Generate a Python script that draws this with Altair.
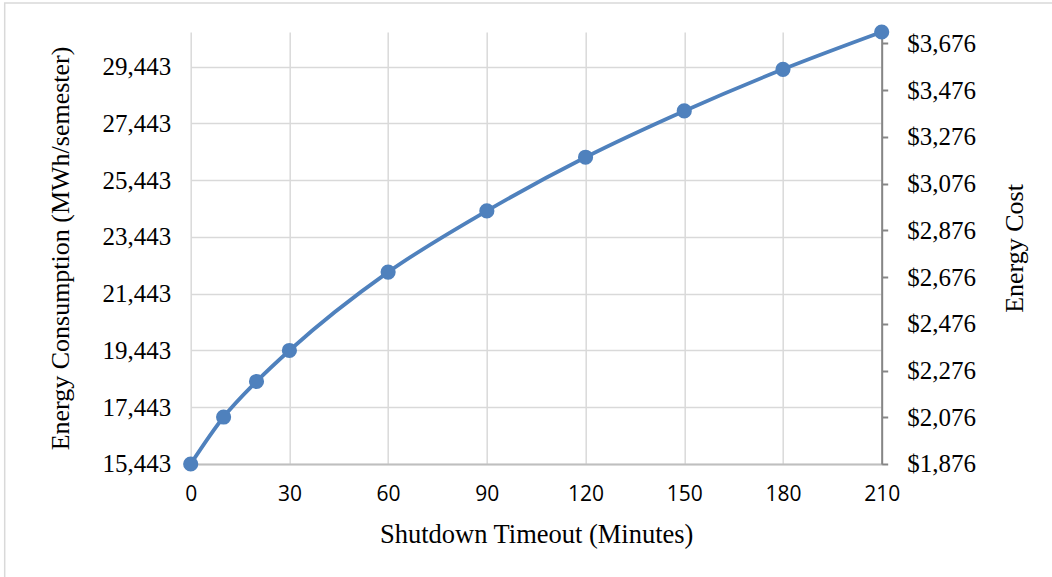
import altair as alt
import pandas as pd

# Shutdown timeout (minutes) vs. energy consumption per semester
minutes = [0, 10, 20, 30, 60, 90, 120, 150, 180, 210]
energy = [15443, 17098, 18351, 19443, 22204, 24362, 26253, 27883, 29351, 30665]

# Price used for the secondary (cost) axis, $ per unit of energy
price = 0.12148

x_ticks = [0, 30, 60, 90, 120, 150, 180, 210]
energy_ticks = [15443, 17443, 19443, 21443, 23443, 25443, 27443, 29443]
cost_ticks = [1876, 2076, 2276, 2476, 2676, 2876, 3076, 3276, 3476, 3676]

df = pd.DataFrame({"minutes": minutes, "energy": energy})
df["cost"] = df["energy"] * price

e_min, e_max = min(energy), max(energy)
# tiny margin so the lowest tick is not lost to rounding
c_min, c_max = e_min * price - 0.05, e_max * price

BLUE = "#4f81bd"
SERIF = "Liberation Serif"
SANS = "Liberation Sans Narrow, Open Sans"

x_scale = alt.Scale(domain=[0, 210], nice=False, zero=False)

x_enc = alt.X(
    "minutes:Q",
    scale=x_scale,
    axis=alt.Axis(
        values=x_ticks,
        title="Shutdown Timeout (Minutes)",
        titleFont=SERIF,
        titleFontSize=26.5,
        titleFontWeight="normal",
        titleColor="#000000",
        titlePadding=17,
        labelFont=SANS,
        labelFontSize=21,
        labelColor="#000000",
        labelPadding=20,
        labelFlush=False,
        domainColor="#bfbfbf",
        domainWidth=2,
        ticks=False,
        grid=True,
        gridColor="#d9d9d9",
        gridWidth=1.5,
    ),
)

y_energy = alt.Y(
    "energy:Q",
    scale=alt.Scale(domain=[e_min, e_max], nice=False, zero=False),
    axis=alt.Axis(
        values=energy_ticks,
        format=",d",
        title="Energy Consumption (MWh/semester)",
        titleFont=SERIF,
        titleFontSize=26,
        titleFontWeight="normal",
        titleColor="#000000",
        titlePadding=28,
        labelFont=SERIF,
        labelFontSize=25,
        labelColor="#000000",
        labelPadding=20,
        domain=False,
        ticks=False,
        grid=True,
        gridColor="#d9d9d9",
        gridWidth=1.5,
    ),
)

energy_line = alt.Chart(df).mark_line(
    color=BLUE, strokeWidth=3.8, interpolate="monotone"
).encode(x=x_enc, y=y_energy)

energy_pts = alt.Chart(df).mark_circle(
    color=BLUE, size=230, opacity=1
).encode(x=x_enc, y=y_energy)

cost_axis = alt.Chart(df).mark_point(opacity=0).encode(
    x=x_enc,
    y=alt.Y(
        "cost:Q",
        scale=alt.Scale(domain=[c_min, c_max], nice=False, zero=False),
        axis=alt.Axis(
            orient="right",
            values=cost_ticks,
            format="$,.0f",
            title="Energy Cost",
            titleAngle=270,
            titleBaseline="top",
            titleFont=SERIF,
            titleFontSize=26,
            titleFontWeight="normal",
            titleColor="#000000",
            titlePadding=26,
            labelFont=SERIF,
            labelFontSize=25,
            labelColor="#000000",
            labelPadding=19,
            domainColor="#868686",
            domainWidth=2,
            tickColor="#868686",
            tickWidth=2,
            tickSize=6,
            grid=False,
        ),
    ),
)

# Thin outer frame of the chart area
frame = alt.Chart(alt.Data(values=[{}])).mark_rect(
    fill=None, stroke="#d9d9d9", strokeWidth=1.5
).encode(
    x=alt.value(-186), x2=alt.value(1000),
    y=alt.value(-29), y2=alt.value(700),
)

base = alt.layer(energy_line, energy_pts)

chart = alt.layer(frame, base, cost_axis).resolve_scale(y="independent").properties(
    width=691,
    height=432,
    padding={"left": 190.7, "top": 32, "right": 170, "bottom": 113},
    autosize=alt.AutoSizeParams(type="none"),
    background="#ffffff",
).configure_view(stroke=None)

chart.save("out.html", embed_options={"renderer": "svg", "actions": False})
